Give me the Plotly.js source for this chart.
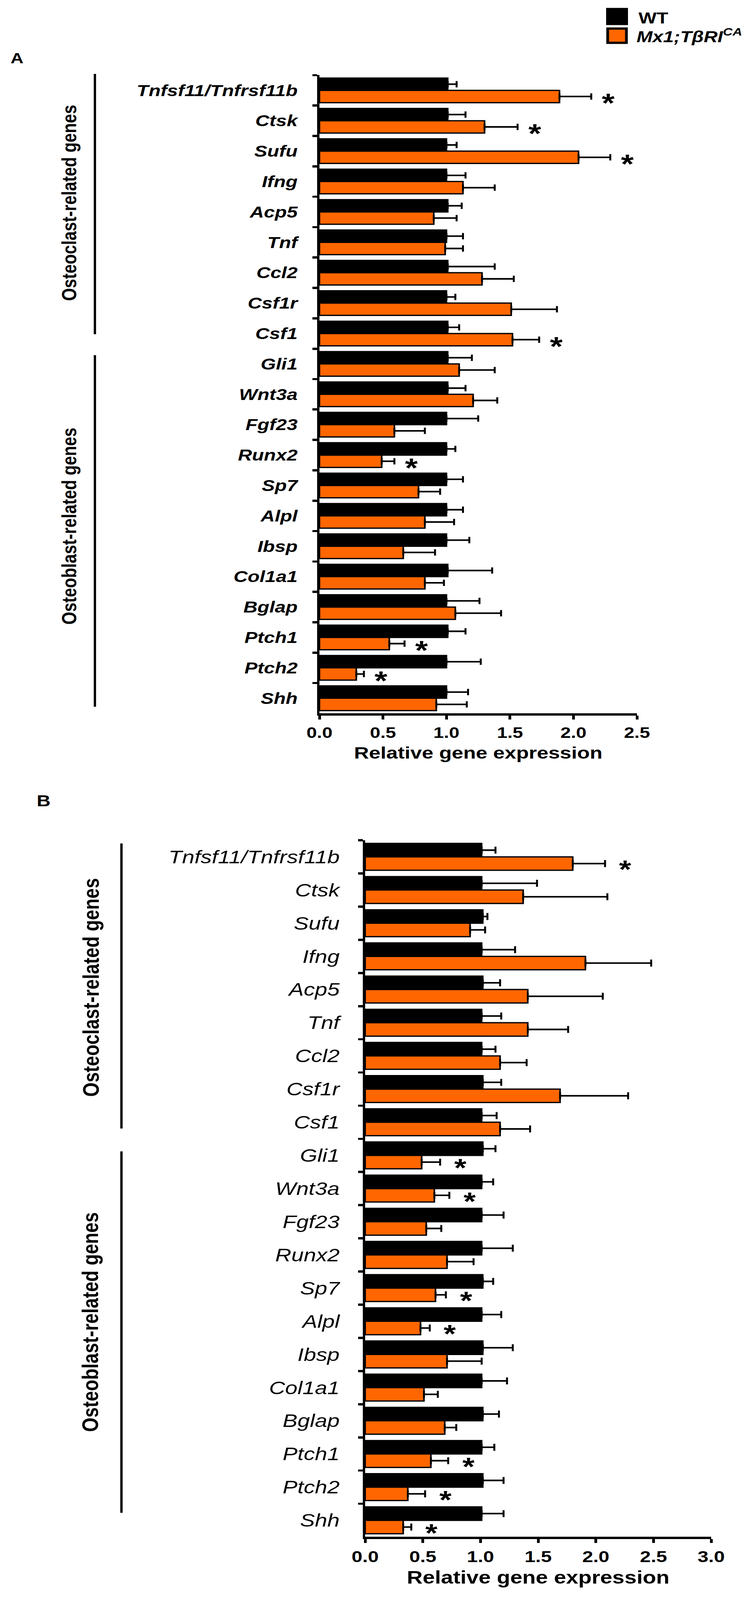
<!DOCTYPE html>
<html><head><meta charset="utf-8">
<script src="https://cdn.plot.ly/plotly-3.0.1.min.js"></script>
<style>html,body{margin:0;padding:0;background:#fff;overflow:hidden}#chart{width:1923px;height:5046px;transform-origin:0 0}</style>
</head><body><div id="chart"></div>
<script>
// ---- data ----
const genes = ['Tnfsf11/Tnfrsf11b','Ctsk','Sufu','Ifng','Acp5','Tnf','Ccl2','Csf1r','Csf1',
  'Gli1','Wnt3a','Fgf23','Runx2','Sp7','Alpl','Ibsp','Col1a1','Bglap','Ptch1','Ptch2','Shh'];
const seriesNames = ['WT', 'Mx1;TβRI<sup>CA</sup>'];
const groupNames = ['Osteoclast-related genes', 'Osteoblast-related genes'];
const panelNames = ['A', 'B'];
const axisTitle = 'Relative gene expression';

// Panel A
const aWT    = [1.01,1.01,1.0,1.0,1.01,1.0,1.01,1.0,1.01,1.01,1.01,1.0,1.0,1.0,1.0,1.0,1.01,1.0,1.01,1.0,1.0];
const aWTerr = [0.07,0.14,0.08,0.15,0.11,0.13,0.37,0.07,0.09,0.19,0.14,0.25,0.07,0.13,0.13,0.18,0.35,0.26,0.14,0.27,0.17];
const aMx    = [1.89,1.30,2.04,1.13,0.90,0.99,1.28,1.51,1.52,1.10,1.21,0.59,0.49,0.78,0.83,0.66,0.83,1.07,0.55,0.29,0.92];
const aMxErr = [0.25,0.26,0.25,0.25,0.18,0.14,0.25,0.36,0.21,0.28,0.19,0.24,0.10,0.17,0.23,0.25,0.15,0.36,0.12,0.06,0.24];
const aStars = ['Tnfsf11/Tnfrsf11b','Ctsk','Sufu','Csf1','Runx2','Ptch1','Ptch2'];
const aTicks = [0, 0.5, 1.0, 1.5, 2.0, 2.5];

// Panel B
const bWT    = [1.01,1.01,1.02,1.01,1.02,1.01,1.01,1.02,1.01,1.02,1.01,1.01,1.01,1.02,1.01,1.02,1.01,1.02,1.01,1.02,1.01];
const bWTerr = [0.12,0.48,0.04,0.29,0.15,0.17,0.12,0.16,0.13,0.11,0.10,0.19,0.27,0.09,0.17,0.26,0.22,0.14,0.11,0.18,0.19];
const bMx    = [1.80,1.37,0.91,1.91,1.41,1.41,1.17,1.69,1.17,0.49,0.60,0.53,0.71,0.61,0.48,0.71,0.51,0.69,0.57,0.37,0.33];
const bMxErr = [0.28,0.73,0.13,0.57,0.65,0.35,0.23,0.59,0.26,0.16,0.13,0.13,0.23,0.09,0.08,0.30,0.12,0.10,0.15,0.15,0.07];
const bStars = ['Tnfsf11/Tnfrsf11b','Gli1','Wnt3a','Sp7','Alpl','Ptch1','Ptch2','Shh'];
const bTicks = [0, 0.5, 1.0, 1.5, 2.0, 2.5, 3.0];

// ---- styling ----
const W = 1923, H = 5046;
const FONT = 'Liberation Sans, Arial, Helvetica, sans-serif';
const ORANGE = '#FF6600';
const px = x => x / W;
const py = y => 1 - y / H;
const zeros = genes.map(() => 0);

function barTrace(x, err, color, name, xa, ya, capw) {
  return {
    type: 'bar', orientation: 'h', x: x, y: genes, name: name,
    xaxis: xa, yaxis: ya, showlegend: false,
    marker: {color: color, line: {color: '#000', width: 4}},
    error_x: {type: 'data', symmetric: false, array: err, arrayminus: zeros,
              color: '#000', thickness: 5, width: capw}
  };
}

const data = [
  barTrace(aWT, aWTerr, '#000', seriesNames[0], 'x', 'y', 10),
  barTrace(aMx, aMxErr, ORANGE, seriesNames[1], 'x', 'y', 10),
  barTrace(bWT, bWTerr, '#000', seriesNames[0], 'x2', 'y2', 11),
  barTrace(bMx, bMxErr, ORANGE, seriesNames[1], 'x2', 'y2', 11)
];

function yAxis(top, bottom, anchor, fsize, weight, standoff) {
  return {
    type: 'category', categoryorder: 'array', categoryarray: genes,
    range: [genes.length - 0.5, -0.5], autorange: false,
    domain: [py(bottom), py(top)], anchor: anchor,
    showline: true, linewidth: 6, linecolor: '#000',
    ticks: 'outside', tickson: 'boundaries', ticklen: 12, tickwidth: 7, tickcolor: '#000',
    showgrid: false, zeroline: false, ticklabelstandoff: standoff,
    tickfont: {family: FONT, size: fsize, color: '#000', weight: weight, style: 'italic'}
  };
}
function xAxis(left, right, anchor, ticks, fsize, tsize, standoff) {
  return {
    range: [ticks[0], ticks[ticks.length - 1]], autorange: false,
    domain: [px(left), px(right)], anchor: anchor,
    showline: true, linewidth: 7, linecolor: '#000',
    ticks: 'outside', ticklen: 12, tickwidth: 7, tickcolor: '#000',
    tickvals: ticks, ticktext: ticks.map(t => t.toFixed(1)),
    showgrid: false, zeroline: false,
    tickfont: {family: FONT, size: fsize, color: '#000', weight: 'bold'},
    title: {text: axisTitle, standoff: standoff,
            font: {family: FONT, size: tsize, color: '#000', weight: 'bold'}}
  };
}

const annotations = [];
function star(list, xs, errs, xa, ya, xshift, yshift, size) {
  list.forEach(g => {
    const i = genes.indexOf(g);
    annotations.push({xref: xa, yref: ya, x: xs[i] + errs[i], y: g, text: '*',
      showarrow: false, xanchor: 'center', yanchor: 'middle', xshift: xshift, yshift: yshift,
      font: {family: FONT, size: size, color: '#000', weight: 'bold'}});
  });
}
star(aStars, aMx, aMxErr, 'x', 'y', 44, -40, 84);
star(bStars, bMx, bMxErr, 'x2', 'y2', 52, -40, 80);

function txt(text, x, y, size, opts) {
  annotations.push(Object.assign({xref: 'paper', yref: 'paper', x: px(x), y: py(y), text: text,
    showarrow: false, xanchor: 'left', yanchor: 'middle',
    font: {family: FONT, size: size, color: '#000', weight: 'bold'}}, opts || {}));
}
txt(panelNames[0], 25, 184, 46);
txt(panelNames[1], 92, 2526, 49);
txt(seriesNames[0], 1633, 57, 49);
txt('<i>' + seriesNames[1] + '</i>', 1628, 112, 49);
txt(groupNames[0], 177, 640, 52, {xanchor: 'center', textangle: -90});
txt(groupNames[1], 177, 1660, 52, {xanchor: 'center', textangle: -90});
txt(groupNames[0], 232, 3114, 58, {xanchor: 'center', textangle: -90});
txt(groupNames[1], 230, 4170, 58, {xanchor: 'center', textangle: -90});

const shapes = [];
function vline(x, y0, y1) {
  shapes.push({type: 'line', xref: 'paper', yref: 'paper', x0: px(x), x1: px(x), y0: py(y0), y1: py(y1),
    line: {color: '#000', width: 6}});
}
vline(243, 233, 1054); vline(243, 1120, 2229);
vline(311, 2660, 3559); vline(311, 3631, 4771);
function box(x0, y0, x1, y1, fill, lw) {
  shapes.push({type: 'rect', xref: 'paper', yref: 'paper', x0: px(x0), x1: px(x1), y0: py(y1), y1: py(y0),
    fillcolor: fill, line: {color: '#000', width: lw}});
}
box(1553, 26, 1607, 78, '#000', 2);
box(1556, 90, 1604, 135, ORANGE, 7);

const layout = {
  width: W, height: H, margin: {l: 0, r: 0, t: 0, b: 0},
  paper_bgcolor: '#fff', plot_bgcolor: 'rgba(0,0,0,0)',
  barmode: 'group', bargap: 0.19, bargroupgap: 0, showlegend: false,
  font: {family: FONT, color: '#000'},
  xaxis: xAxis(818, 1631, 'y', aTicks, 48, 53, 22),
  yaxis: yAxis(237, 2250, 'x', 50, 'bold', 40),
  xaxis2: xAxis(935, 1821, 'y2', bTicks, 50, 56, 22),
  yaxis2: yAxis(2650, 4847, 'x2', 57, 'normal', 48),
  annotations: annotations, shapes: shapes
};

Plotly.newPlot('chart', data, layout, {staticPlot: true, displayModeBar: false});

// The browser viewport can be shorter than the figure; fit the whole figure into it.
const vh = window.innerHeight || H;
if (vh < H) {
  document.getElementById('chart').style.transform = 'scaleY(' + (vh / H) + ')';
  document.body.style.height = vh + 'px';
}
</script></body></html>
